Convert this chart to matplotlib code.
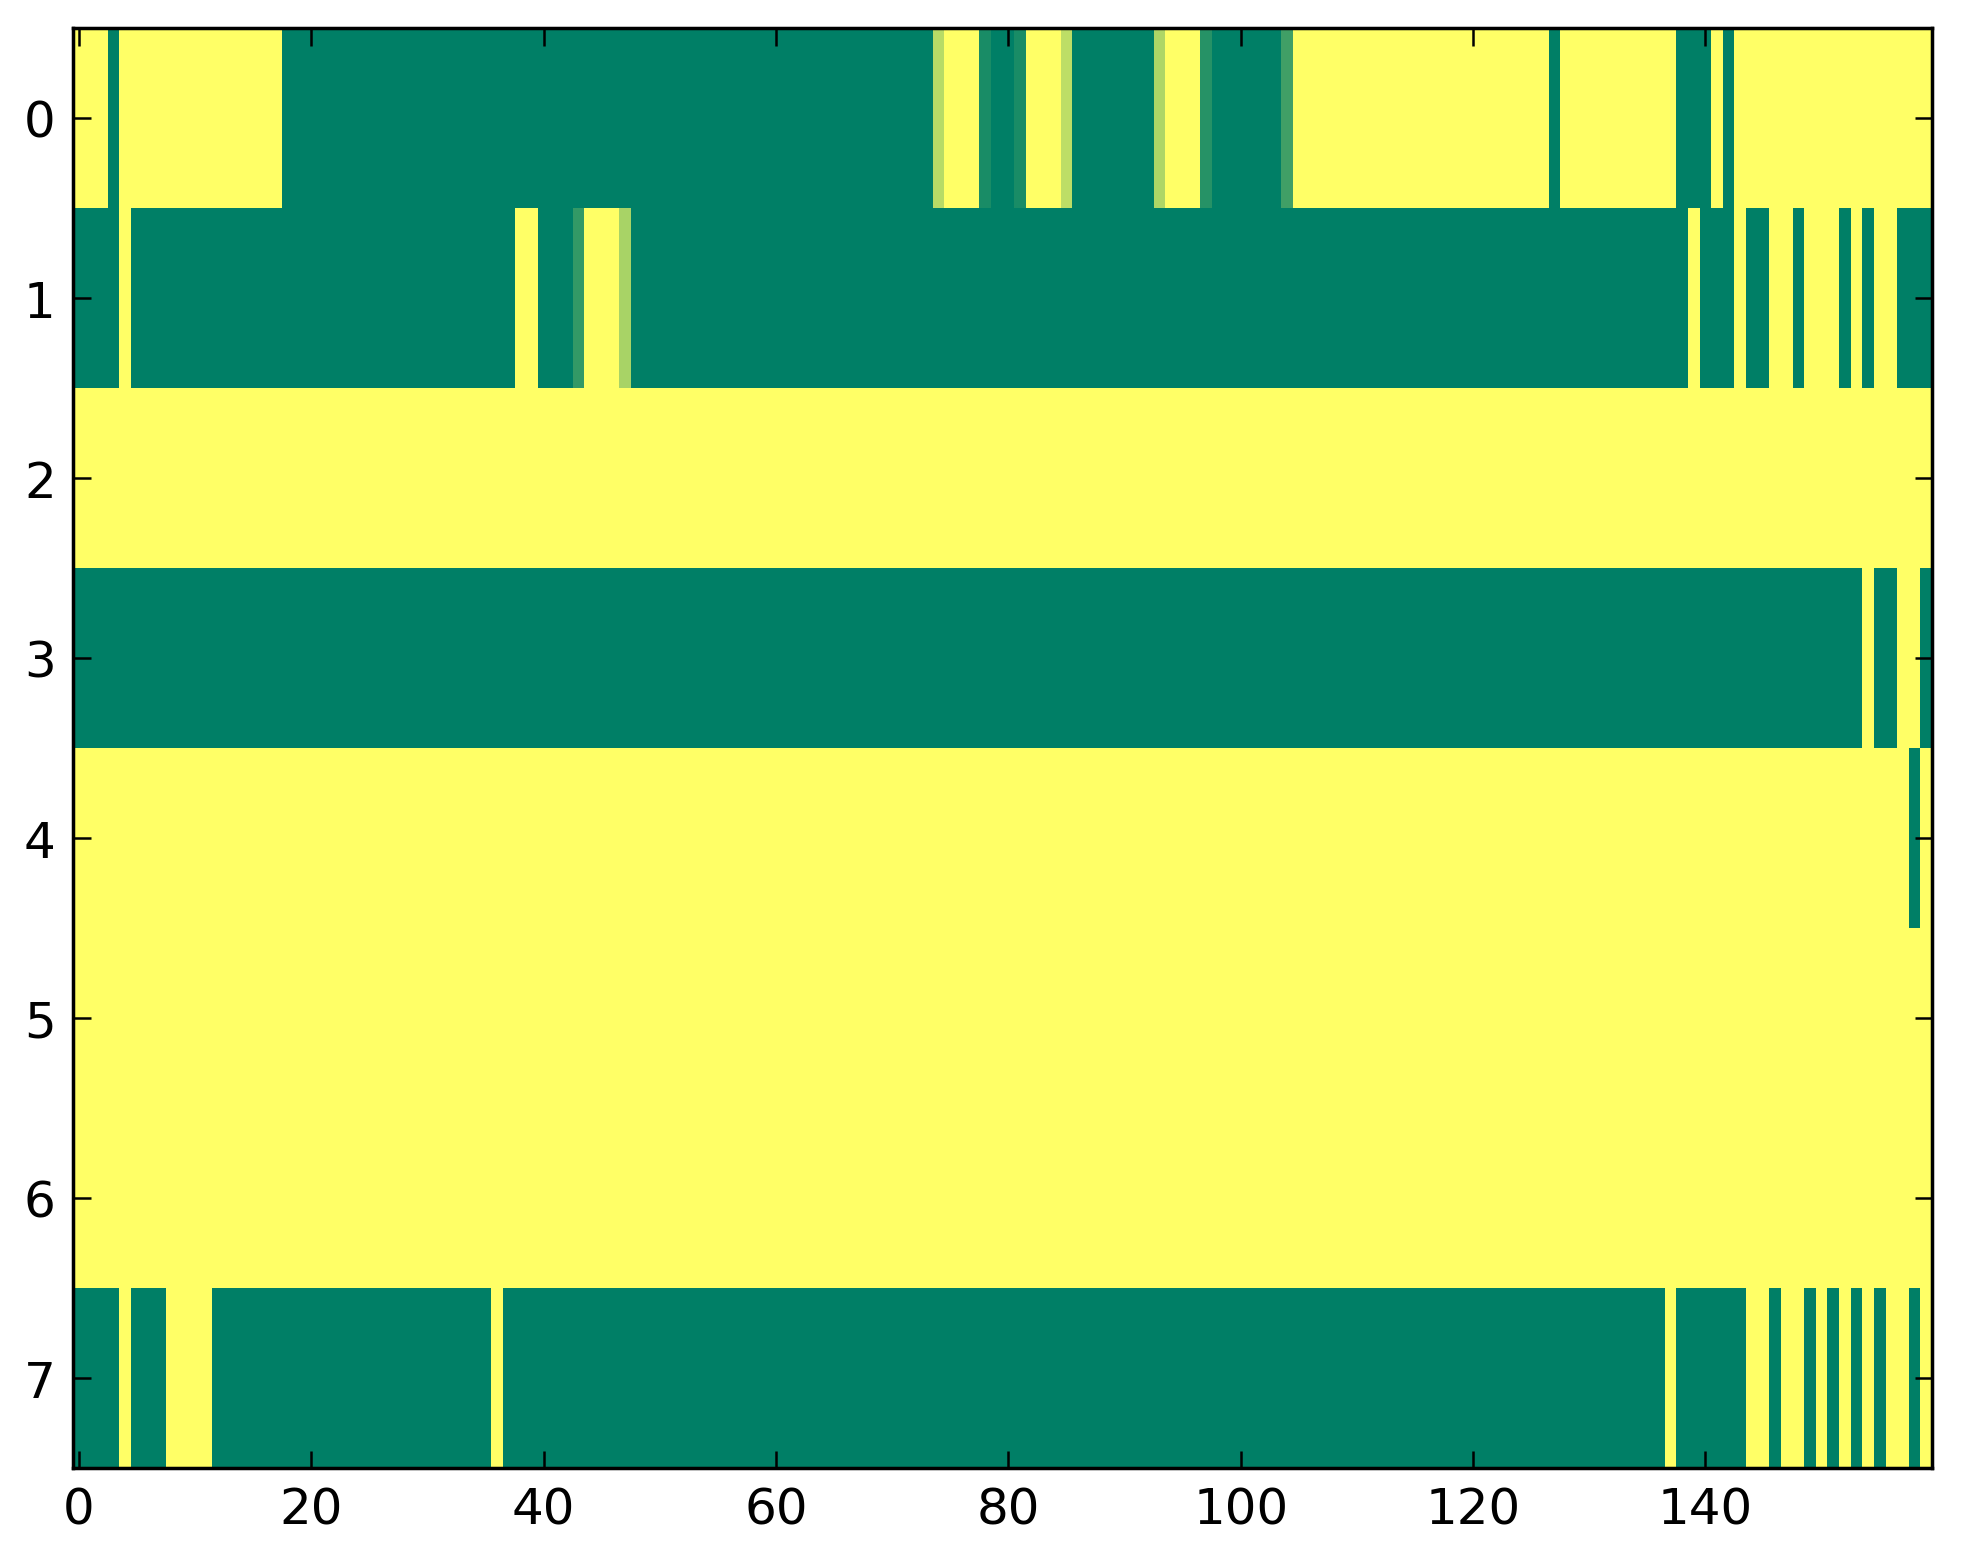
import numpy as np
import matplotlib
matplotlib.use("Agg")
import matplotlib.pyplot as plt

# Run-length encoded rows: (value, run length). 0 = green, 1 = yellow (summer cmap).
ROW0 = [(1, 3), (0, 1), (1, 14), (0, 56), (0.72, 1), (1, 3), (0.1, 1), (0, 2),
        (0.1, 1), (1, 3), (0.74, 1), (0, 7), (0.68, 1), (1, 3), (0.15, 1),
        (0, 6), (0.25, 1), (1, 22), (0, 1), (1, 10), (0, 3), (1, 1), (0, 1),
        (1, 17)]
ROW1 = [(0, 4), (1, 1), (0, 33), (1, 2), (0, 3), (0.2, 1), (1, 3), (0.66, 1),
        (0, 91), (1, 1), (0, 3), (1, 1), (0, 2), (1, 2), (0, 1), (1, 3),
        (0, 1), (1, 1), (0, 1), (1, 2), (0, 3)]
ROW2 = [(1, 160)]
ROW3 = [(0, 154), (1, 1), (0, 2), (1, 2), (0, 1)]
ROW4 = [(1, 158), (0, 1), (1, 1)]
ROW5 = [(1, 160)]
ROW6 = [(1, 160)]
ROW7 = [(0, 4), (1, 1), (0, 3), (1, 4), (0, 24), (1, 1), (0, 100), (1, 1),
        (0, 6), (1, 2), (0, 1), (1, 2), (0, 1), (1, 1), (0, 1), (1, 1),
        (0, 1), (1, 1), (0, 1), (1, 2), (0, 1), (1, 1)]

ROWS = [ROW0, ROW1, ROW2, ROW3, ROW4, ROW5, ROW6, ROW7]


def _expand(rle):
    vals = [v for v, _ in rle]
    counts = [n for _, n in rle]
    return np.repeat(vals, counts)


grid = np.vstack([_expand(r) for r in ROWS])

DPI = 360
fig = plt.figure(figsize=(1963 / DPI, 1564 / DPI), dpi=DPI)
ax = fig.add_axes([73.2 / 1963, 1 - 1469 / 1564, (1932 - 73.2) / 1963, 1440 / 1564])

ax.imshow(grid, cmap="summer", vmin=0, vmax=1, aspect="auto",
          interpolation="nearest")

ax.set_xticks(np.arange(0, 160, 20))
ax.set_yticks(np.arange(8))
ax.set_xlim(-0.5, 159.5)
ax.set_ylim(7.5, -0.5)
ax.tick_params(axis="both", which="major", direction="in", length=3.5, width=0.5,
               labelsize=10, top=True, right=True, pad=3.5)
for s in ax.spines.values():
    s.set_linewidth(0.7)

fig.savefig("out.png", dpi=DPI)
